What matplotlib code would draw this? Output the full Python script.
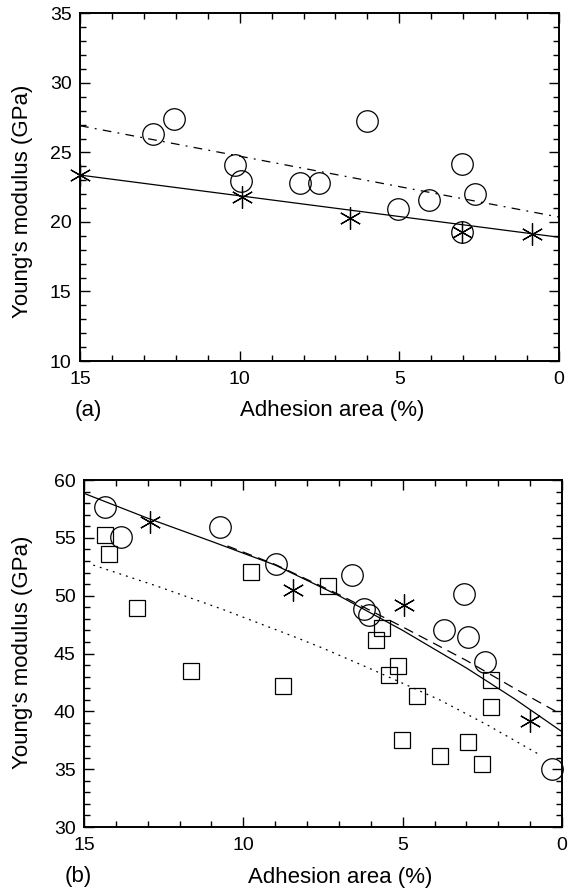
import numpy as np
import matplotlib
matplotlib.use('Agg')
import matplotlib.pyplot as plt
from matplotlib.ticker import MultipleLocator

plt.rcParams['font.family'] = ['Liberation Sans', 'DejaVu Sans']

# ---- panel (a) ----
a_circ_x = [12.73, 12.05, 10.16, 9.95, 8.12, 7.51, 6.02, 5.03, 4.06, 3.04, 2.64, 3.04]
a_circ_y = [26.3, 27.4, 24.1, 22.95, 22.8, 22.8, 27.25, 20.95, 21.6, 24.2, 22.0, 19.25]
a_star_x = [15.0, 9.93, 6.53, 3.04, 0.84]
a_star_y = [23.35, 21.8, 20.25, 19.25, 19.1]
a_solid_x = [15, 0]
a_solid_y = [23.37, 18.9]
a_dashdot_x = [15, 0]
a_dashdot_y = [26.92, 20.35]

# ---- panel (b) ----
b_circ_x = [14.35, 13.83, 10.72, 8.97, 6.60, 6.20, 6.06, 3.09, 3.69, 2.95, 2.42, 0.32]
b_circ_y = [57.64, 55.05, 55.97, 52.72, 51.75, 48.84, 48.35, 50.16, 47.06, 46.42, 44.24, 35.06]
b_sq_x = [14.33, 14.23, 9.75, 13.34, 7.34, 11.63, 8.75, 5.66, 5.83, 5.15, 5.43, 4.54,
          5.03, 3.83, 2.94, 2.52, 2.23, 2.23]
b_sq_y = [55.23, 53.62, 52.09, 48.9, 50.85, 43.46, 42.17, 47.2, 46.14, 43.95, 43.17, 41.36,
          37.51, 36.13, 37.34, 35.41, 42.69, 40.38]
b_star_x = [12.92, 8.43, 4.97, 1.0]
b_star_y = [56.4, 50.51, 49.21, 39.15]
b_solid_x = [15, 13, 11, 9, 7, 5, 3, 1.5, 0]
b_solid_y = [58.85, 56.7, 54.7, 52.65, 50.0, 47.0, 43.75, 41.1, 38.24]
b_dash_x = [10.5, 9, 7, 5, 3, 1.5, 0]
b_dash_y = [54.3, 52.7, 50.1, 47.3, 44.4, 42.0, 39.7]
b_dot_x = [14.71, 12.72, 10.63, 8.54, 7.49, 5.92, 3.83, 2.36, 0.69]
b_dot_y = [52.65, 50.84, 48.8, 46.6, 45.45, 43.57, 40.98, 38.85, 36.23]

fs_tick = 14
fs_lab = 16
star = (6, 2, 0)

fig = plt.figure(figsize=(5.72, 8.89), dpi=100)
ax1 = fig.add_axes([0.1399, 0.5939, 0.8374, 0.3911])
ax2 = fig.add_axes([0.1469, 0.0697, 0.8357, 0.3903])

# (a)
ax1.plot(a_solid_x, a_solid_y, color='black', lw=0.9)
ax1.plot(a_dashdot_x, a_dashdot_y, color='black', lw=0.9, linestyle=(0, (7, 5, 1.5, 5)))
ax1.plot(a_circ_x, a_circ_y, 'o', ms=15.5, mfc='none', mec='black', mew=0.9, clip_on=False)
ax1.plot(a_star_x, a_star_y, marker=star, ls='none', ms=16, color='black', mew=0.9,
         clip_on=False)
ax1.set_ylim(10, 35)
ax1.set_yticks([10, 15, 20, 25, 30, 35])

# (b)
ax2.plot(b_solid_x, b_solid_y, color='black', lw=0.9)
ax2.plot(b_dash_x, b_dash_y, color='black', lw=0.9, linestyle=(0, (8, 5)))
ax2.plot(b_dot_x, b_dot_y, color='black', lw=0.9, linestyle=(0, (1.5, 4)))
ax2.plot(b_circ_x, b_circ_y, 'o', ms=15.5, mfc='none', mec='black', mew=0.9, clip_on=False)
ax2.plot(b_sq_x, b_sq_y, 's', ms=12, mfc='none', mec='black', mew=0.9, clip_on=False)
ax2.plot(b_star_x, b_star_y, marker=star, ls='none', ms=16, color='black', mew=0.9,
         clip_on=False)
ax2.set_ylim(30, 60)
ax2.set_yticks([30, 35, 40, 45, 50, 55, 60])

for ax, tag, lx in [(ax1, '(a)', 0.017), (ax2, '(b)', -0.013)]:
    ax.set_xlim(15, 0)
    ax.set_xticks([15, 10, 5, 0])
    ax.xaxis.set_minor_locator(MultipleLocator(1))
    ax.yaxis.set_minor_locator(MultipleLocator(1))
    ax.tick_params(which='both', direction='in', top=True, right=True,
                   width=1.0, labelsize=fs_tick)
    ax.tick_params(which='major', length=7)
    ax.tick_params(which='minor', length=4)
    ax.tick_params(axis='x', pad=7)
    ax.tick_params(axis='y', pad=6)
    for s in ax.spines.values():
        s.set_linewidth(1.4)
    ax.set_ylabel("Young's modulus (GPa)", fontsize=fs_lab, va='center')
    ax.set_xlabel('Adhesion area (%)', fontsize=fs_lab, va='center')
    ax.text(lx, -0.142, tag, transform=ax.transAxes, ha='center', va='center',
            fontsize=fs_lab)

ax1.yaxis.set_label_coords(-0.12, 0.46)
ax1.xaxis.set_label_coords(0.527, -0.142)
ax2.yaxis.set_label_coords(-0.128, 0.505)
ax2.xaxis.set_label_coords(0.536, -0.144)

fig.savefig('out.png', dpi=100)
